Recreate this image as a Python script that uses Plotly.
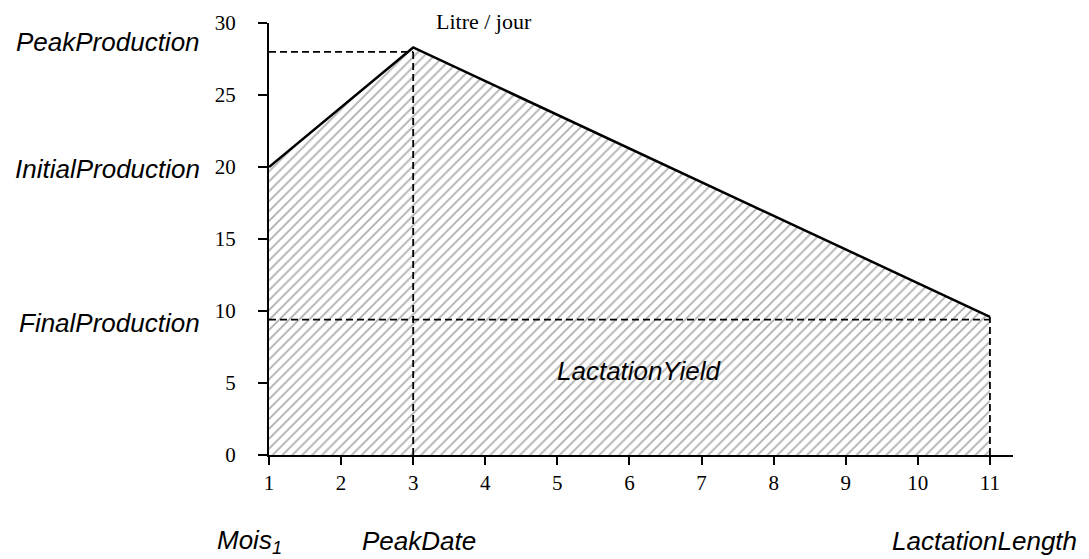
import plotly.graph_objects as go

# ---- data ----
months = [1, 3, 11]                 # start, peak date, lactation length
production = [20, 28.3, 9.6]        # initial, peak, final production (L/day)
peak_ref = 28.0                     # dashed reference level for peak
final_ref = 9.4                     # dashed reference level for final
x_ticks = list(range(1, 12))
y_ticks = [0, 5, 10, 15, 20, 25, 30]

left_labels = ["PeakProduction", "InitialProduction", "FinalProduction"]
bottom_labels = ["Mois<sub>1</sub>", "PeakDate", "LactationLength"]

fig = go.Figure()

# filled lactation curve
fig.add_trace(go.Scatter(
    x=months, y=production, mode="lines", fill="tozeroy",
    line=dict(color="black", width=2.5),
    fillcolor="white",
    fillpattern=dict(shape="/", size=7, solidity=0.25, fgcolor="#5e5e5e", bgcolor="white"),
    cliponaxis=False, hoverinfo="skip", showlegend=False))

# dashed reference lines
dx = [months[0], months[1], None, months[0], months[2], None,
      months[1], months[1], None, months[2], months[2]]
dy = [peak_ref, peak_ref, None, final_ref, final_ref, None,
      0, production[1], None, 0, production[2]]
fig.add_trace(go.Scatter(
    x=dx, y=dy, mode="lines",
    line=dict(color="black", width=1.8, dash="7px,4px"),
    cliponaxis=False, hoverinfo="skip", showlegend=False))

ann = []
sans_it = dict(family="Liberation Sans", size=26, color="black")
for lbl, yv, ys in zip(left_labels, [production[1], production[0], final_ref], [5, -2, -3]):
    ann.append(dict(x=-0.09, xref="paper", y=yv, yref="y", text="<i>%s</i>" % lbl,
                    showarrow=False, xanchor="right", yanchor="middle", font=sans_it,
                    yshift=ys))
for lbl, xv, xs in zip(bottom_labels, months, [-20, 6, -5]):
    ann.append(dict(x=xv, xref="x", y=0, yref="y", text="<i>%s</i>" % lbl,
                    showarrow=False, xanchor="center", yanchor="middle", font=sans_it,
                    xshift=xs, yshift=-86))
ann.append(dict(x=6.13, y=5.8, xref="x", yref="y", text="<i>LactationYield</i>",
                showarrow=False, font=sans_it))
ann.append(dict(x=3.98, y=30, xref="x", yref="y", text="Litre / jour", showarrow=False,
                font=dict(family="Liberation Serif", size=22, color="black"), yshift=2))
ann.append(dict(x=11.65, y=0, xref="x", yref="y", text="Mois", showarrow=False,
                xanchor="left", yanchor="middle",
                font=dict(family="Liberation Serif", size=22, color="black")))

fig.update_layout(
    width=1089, height=559,
    margin=dict(l=269, r=76, t=23, b=104),
    paper_bgcolor="white", plot_bgcolor="white",
    annotations=ann,
    xaxis=dict(range=[1, 11.32], tickvals=x_ticks, ticktext=[str(v) for v in x_ticks],
               showgrid=False, zeroline=False, showline=True, linecolor="black", linewidth=2,
               ticks="outside", ticklen=8, tickwidth=2, tickcolor="black",
               tickfont=dict(family="Liberation Serif", size=21, color="black"),
               fixedrange=True),
    yaxis=dict(range=[0, 30], tickvals=y_ticks, ticktext=[str(v) for v in y_ticks],
               showgrid=False, zeroline=False, showline=True, linecolor="black", linewidth=2,
               ticks="outside", ticklen=9, tickwidth=2, tickcolor="black",
               ticklabelstandoff=18,
               tickfont=dict(family="Liberation Serif", size=21, color="black"),
               fixedrange=True),
)

fig.write_html("out.html", config={"displayModeBar": False},
               post_script="document.body.style.margin='0';document.body.style.overflow='hidden';")
